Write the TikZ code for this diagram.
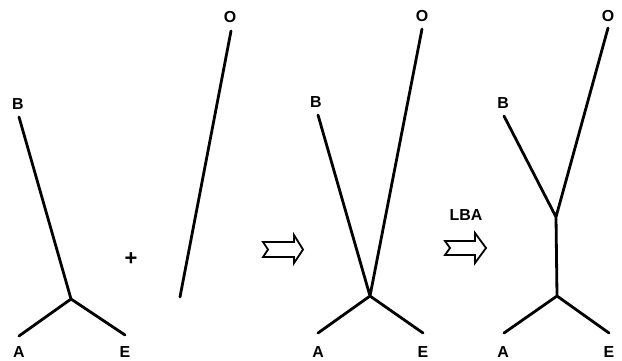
\documentclass[tikz,border=0pt]{standalone}
\usepackage{fontspec}
\setmainfont{Liberation Sans}
\begin{document}
\begin{tikzpicture}[x=1bp,y=-1bp,
  branch/.style={line width=2.8bp, line cap=round, line join=round},
  lbl/.style={font=\fontsize{16}{19}\selectfont\bfseries, inner sep=0pt},
  fatarrow/.style={line width=1.8bp, fill=white, line join=miter}]
\useasboundingbox (0,0) rectangle (622,360);
% Tree 1
\coordinate (n1) at (71,299);
\coordinate (b1) at (19,117);
\coordinate (a1) at (19,336);
\coordinate (e1) at (125,335);
\draw[branch] (b1) -- (n1) (a1) -- (n1) -- (e1);
\node[lbl] (B1) at (18,104) {B};
\node[lbl] (A1) at (19,352) {A};
\node[lbl] (E1) at (125,352) {E};
\node[lbl, font=\fontsize{22}{24}\selectfont\bfseries] (plus) at (131,259) {+};
% O branch alone
\coordinate (o1t) at (231,31);
\coordinate (o1b) at (180,297);
\draw[branch] (o1t) -- (o1b);
\node[lbl] (O1) at (230,17) {O};
% Arrow 1
\draw[fatarrow] (263,242) -- (268,249.5) -- (263,257) -- (294,257) -- (294,263) -- (303,249.5) -- (294,235) -- (294,242) -- cycle;
% Tree 2
\coordinate (n2) at (370,296);
\coordinate (b2) at (318,115);
\coordinate (o2) at (422,29);
\coordinate (a2) at (318,333);
\coordinate (e2) at (423,333);
\draw[branch] (b2) -- (n2) -- (o2) (a2) -- (n2) -- (e2);
\node[lbl] (B2) at (316,102) {B};
\node[lbl] (O2) at (422,16) {O};
\node[lbl] (A2) at (318,352) {A};
\node[lbl] (E2) at (423,352) {E};
% Arrow 2
\node[lbl] (LBA) at (466,215) {LBA};
\draw[fatarrow] (445,241) -- (450,248) -- (445,255) -- (475,255) -- (475,263) -- (486,248) -- (475,233) -- (475,241) -- cycle;
% Tree 3
\coordinate (u3) at (556,217);
\coordinate (l3) at (557,296);
\coordinate (b3) at (504,116);
\coordinate (o3) at (608,28);
\coordinate (a3) at (504,333);
\coordinate (e3) at (609,333);
\draw[branch] (b3) -- (u3) -- (o3) (u3) -- (l3) (a3) -- (l3) -- (e3);
\node[lbl] (B3) at (503,103) {B};
\node[lbl] (O3) at (608,16) {O};
\node[lbl] (A3) at (503,352) {A};
\node[lbl] (E3) at (609,352) {E};
\end{tikzpicture}
\end{document}
